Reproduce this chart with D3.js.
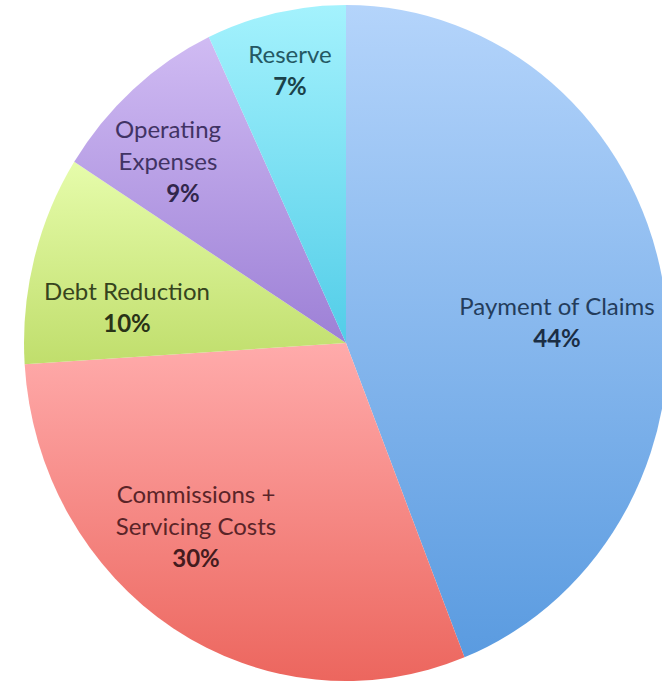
<!DOCTYPE html>
<html>
<head>
<meta charset="utf-8">
<script src="https://cdn.jsdelivr.net/npm/d3@7"></script>
<style>
  html, body { margin: 0; padding: 0; background: #fff; }
  svg { display: block; }
</style>
</head>
<body>
<div id="chart"></div>
<script>
// Data
const categories = ['Payment of Claims', 'Commissions + Servicing Costs', 'Debt Reduction', 'Operating Expenses', 'Reserve'];
const values = [44, 30, 10, 9, 7];
// label lines per slice (text wraps as in the original)
const labelLines = [['Payment of Claims'], ['Commissions +', 'Servicing Costs'], ['Debt Reduction'], ['Operating', 'Expenses'], ['Reserve']];
const colorsTop = ['#b4d4fb', '#ffabab', '#e6fcab', '#d0bbf3', '#a4f2fd'];
const colorsBottom = ['#5a9be0', '#ec665e', '#c0de6c', '#9d80d6', '#52cde8'];
const textColors = ['#243d5c', '#5a2428', '#36441e', '#413364', '#245863'];

const width = 662;
const height = 683;
const cx = 346, cy = 343;
const rx = 322, ry = 338;

const svg = d3.select('#chart')
  .append('svg')
  .attr('width', width)
  .attr('height', height);

// gradients, one per slice, top to bottom of its own box
const defs = svg.append('defs');
categories.forEach((c, i) => {
  const g = defs.append('linearGradient')
    .attr('id', 'grad' + i)
    .attr('x1', 0).attr('y1', 0).attr('x2', 0).attr('y2', 1);
  g.append('stop').attr('offset', '0%').attr('stop-color', colorsTop[i]);
  g.append('stop').attr('offset', '100%').attr('stop-color', colorsBottom[i]);
});

const data = categories.map((c, i) => ({ name: c, value: values[i], index: i }));
const pie = d3.pie().sort(null).value((d) => d.value);
const data_ready = pie(data);

// slightly oval pie: draw on unit radius, stretch with scale
const arc = d3.arc().innerRadius(0).outerRadius(1);
const g = svg.append('g')
  .attr('transform', 'translate(' + cx + ',' + cy + ') scale(' + rx + ',' + ry + ')');

g.selectAll('path')
  .data(data_ready)
  .enter()
  .append('path')
  .attr('d', arc)
  .attr('fill', (d) => 'url(#grad' + d.index + ')');

// labels (positions)
const labelPos = [[557, 307], [196, 495], [127, 292], [168, 130], [290, 55]];
const lineH = 32;
const font = 'Lato, "Open Sans", sans-serif';

data_ready.forEach((d) => {
  const i = d.index;
  const t = svg.append('text')
    .attr('text-anchor', 'middle')
    .attr('font-family', font)
    .attr('font-size', 24)
    .attr('fill', textColors[i]);
  const lines = labelLines[i];
  lines.forEach((l, k) => {
    t.append('tspan')
      .attr('x', labelPos[i][0])
      .attr('y', labelPos[i][1] + k * lineH)
      .attr('dy', '0.35em')
      .text(l);
  });
  t.append('tspan')
    .attr('x', labelPos[i][0] + (i === 3 ? 15 : 0))
    .attr('y', labelPos[i][1] + lines.length * lineH)
    .attr('dy', '0.35em')
    .attr('font-weight', 'bold')
    .attr('fill', d3.color(textColors[i]).darker(0.8))
    .text(d3.format('d')(d.data.value) + '%');
});
</script>
</body>
</html>
